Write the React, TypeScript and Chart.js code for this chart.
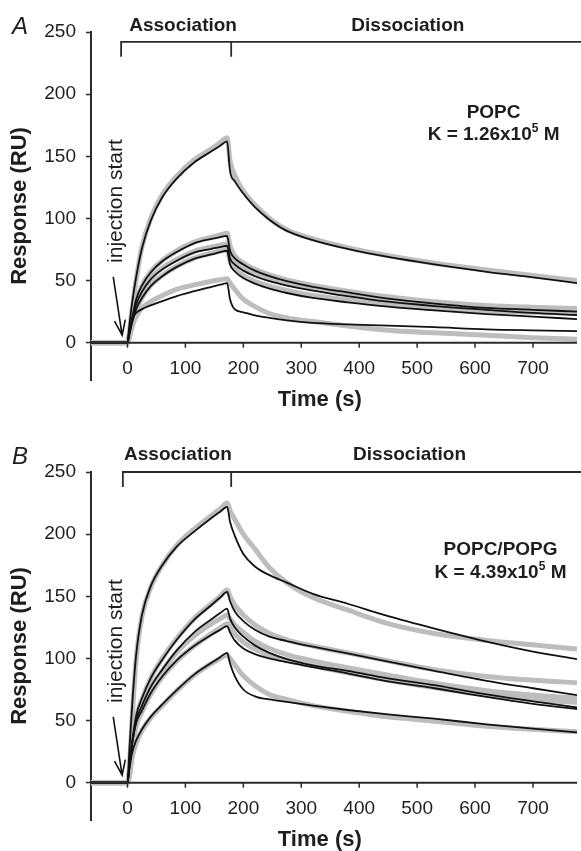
import React, { useEffect, useRef } from "react";
import { Chart, registerables } from "chart.js";

Chart.register(...registerables);

const FONT = "'Liberation Sans', Arial, Helvetica, sans-serif";

// Sampling times (s) shared by all sensorgrams
const times = [-63, 0, 3, 8, 15, 25, 40, 60, 85, 115, 145, 160, 172, 177, 185, 200, 220, 245, 275, 320, 380, 450, 530, 620, 700, 776];

// Axis tick values
const xTicks = [0, 100, 200, 300, 400, 500, 600, 700];
const yTicks = [0, 50, 100, 150, 200, 250];

// Panel A: POPC — fitted curves (black) and measured responses (grey)
const popcFit1 = [0, 0, 13, 32, 53, 76, 98, 117, 132, 145, 154, 158.5, 162, 138, 130, 120, 109, 99, 90, 82.6, 75.5, 69, 63, 57, 52.5, 48];
const popcFit2 = [0, 0, 8, 20, 35, 46, 56.5, 65.5, 73, 80, 83.5, 85, 86, 74, 68, 63, 58, 53.5, 49.5, 45, 40.5, 35.5, 31.5, 28, 26.5, 25];
const popcFit3 = [0, 0, 7, 18, 31, 41, 51, 59, 66, 72.5, 75.5, 77, 78, 68, 63, 58, 53.5, 49.5, 46, 42, 37.5, 33, 29.5, 26.5, 24, 22.3];
const popcFit4 = [0, 0, 6, 16, 27, 36, 45.5, 53.5, 61, 67.5, 71, 72.8, 74, 63, 57.5, 52, 47.5, 43.5, 40, 36, 32.5, 29, 26, 23, 21, 19];
const popcFit5 = [0, 0, 10, 19, 24, 27, 30, 33.5, 37.5, 41.5, 45, 46.7, 48, 35, 27, 24.5, 22, 20, 18, 16, 14.8, 13.8, 12.5, 10.8, 10, 9.4];
const popcData1 = [0, 0, 8, 27, 51, 77, 100, 119, 134, 147, 156, 161, 165, 146, 135, 122, 111, 100, 91, 83.5, 76.5, 70, 64, 58.5, 54, 50];
const popcData2 = [0, 0, 5, 18, 34, 46, 57, 66, 74, 81, 85, 86.8, 88, 78, 70, 64, 59, 54.5, 50.5, 46, 41.5, 37, 33, 30, 28.5, 27.5];
const popcData3 = [0, 0, 4, 16, 30, 41, 51.5, 60, 67, 73.5, 77, 78.5, 79.5, 71, 65, 59.5, 55, 51, 47.5, 43.5, 39, 34.5, 31, 28, 26.5, 25.5];
const popcData4 = [0, 0, 4, 14, 26, 36, 46, 54, 61.5, 68, 72, 73.8, 75, 66, 59.5, 54, 49.5, 45.5, 42, 38, 34.5, 31, 28, 25.5, 24.5, 23.5];
const popcData5 = [0, 0, 5, 13, 21, 28, 33, 38, 43, 46.5, 49.5, 50.7, 51.5, 48, 43, 35, 29, 23.5, 20, 17, 13.5, 10, 8, 6, 4, 2.7];

// Panel B: POPC/POPG — fitted curves (black) and measured responses (grey)
const pgFit1 = [0, 0, 24, 62, 103, 135, 158, 175, 190, 202, 213, 218, 222, 210, 199, 184, 174, 167, 161, 152, 144, 134, 124, 113.5, 105.5, 99.5];
const pgFit2 = [0, 0, 13, 33, 54, 68, 84, 99, 115, 131, 143, 149, 153.5, 146, 138, 130, 123, 117.5, 114, 109.5, 104, 97.5, 90, 82, 76, 70.5];
const pgFit3 = [0, 0, 12, 31, 50, 62, 77, 91, 106.5, 121, 131.5, 136.5, 140, 132, 125, 117.5, 110.5, 104.5, 99.5, 94.5, 90, 84, 78.5, 71, 65.5, 60.5];
const pgFit4 = [0, 0, 12, 31, 48, 58, 72, 85.5, 98.5, 110, 119, 123, 126, 121, 114.5, 108, 103.5, 100, 97, 93, 88, 81.5, 76, 69, 63.5, 59.3];
const pgFit5 = [0, 0, 10, 24, 34, 43, 53, 63, 74.5, 87, 96.5, 101, 104.5, 96, 86, 75, 69.5, 67, 65, 62, 58.5, 55, 51.5, 47, 43.5, 40.5];
const pgData1 = [0, 0, 12, 52, 100, 134, 157, 175, 191, 204, 215, 220.5, 225, 219, 212, 200, 188, 173, 161, 149, 139, 128, 120, 114.5, 111, 107.5];
const pgData2 = [0, 0, 6, 28, 52, 67, 84, 100, 116, 132, 144, 150, 155, 150, 143, 135, 127, 120, 115, 110, 104.5, 98, 91, 85.5, 82.5, 80.5];
const pgData3 = [0, 0, 5, 26, 47, 61, 76, 90, 105, 118, 128, 132, 135, 132, 127, 121, 114, 108, 103, 98, 92.5, 86.5, 80, 74, 70.5, 68];
const pgData4 = [0, 0, 5, 25, 45, 57, 71, 85, 98, 110, 120, 124.5, 128, 125, 120, 113, 107.5, 102.5, 98.5, 94, 88.5, 82.5, 76.5, 70.5, 67, 64.5];
const pgData5 = [0, 0, 4, 20, 32, 42, 52, 62, 74, 86.5, 96, 100, 103, 100, 95, 86, 78, 71, 67, 62, 57.5, 53, 49.5, 45.5, 43, 41];

type PanelSpec = {
  letter: string;
  lipid: string;
  kValue: string;
  fits: number[][];
  measured: number[][];
  canvasHeight: number;
  padBottom: number;
  letterY: number;
  headY: number;
  bracketY: number;
  bracketTickY: number;
  bracketLeft: number;
  assocX: number;
  dissocX: number;
  noteX: number;
  noteY1: number;
  noteY2: number;
};

const panelA: PanelSpec = {
  letter: "A",
  lipid: "POPC",
  kValue: "1.26",
  fits: [popcFit1, popcFit2, popcFit3, popcFit4, popcFit5],
  measured: [popcData1, popcData2, popcData3, popcData4, popcData5],
  canvasHeight: 440,
  padBottom: 60,
  letterY: 254,
  headY: 251,
  bracketY: 242,
  bracketTickY: 230,
  bracketLeft: -11,
  assocX: 96,
  dissocX: 484,
  noteX: 632,
  noteY1: 180.8,
  noteY2: 163.1,
};

const panelB: PanelSpec = {
  letter: "B",
  lipid: "POPC/POPG",
  kValue: "4.39",
  fits: [pgFit1, pgFit2, pgFit3, pgFit4, pgFit5],
  measured: [pgData1, pgData2, pgData3, pgData4, pgData5],
  canvasHeight: 411,
  padBottom: 31,
  letterY: 262,
  headY: 259.6,
  bracketY: 250,
  bracketTickY: 238,
  bracketLeft: -8,
  assocX: 87,
  dissocX: 487,
  noteX: 644,
  noteY1: 183.2,
  noteY2: 164.7,
};

const toPoints = (vals: number[]) => times.map((t, i) => ({ x: t, y: vals[i] }));

function overlayPlugin(p: PanelSpec) {
  return {
    id: "sprOverlay",
    afterDraw(chart: any) {
      const { ctx, chartArea, scales } = chart;
      const xs = scales.x;
      const ys = scales.y;
      const X = (v: number) => xs.getPixelForValue(v);
      const Y = (v: number) => ys.getPixelForValue(v);
      const ink = "#1e1e1e";
      ctx.save();

      // horizontal axis crossing at zero response
      const y0 = Y(0);
      ctx.strokeStyle = "#2b2b2b";
      ctx.lineWidth = 2;
      ctx.beginPath();
      ctx.moveTo(chartArea.left, y0);
      ctx.lineTo(chartArea.right, y0);
      ctx.stroke();
      ctx.lineWidth = 1.5;
      ctx.beginPath();
      for (const t of xTicks) {
        ctx.moveTo(X(t), y0);
        ctx.lineTo(X(t), y0 + 5);
      }
      ctx.stroke();
      ctx.fillStyle = ink;
      ctx.font = `19px ${FONT}`;
      ctx.textAlign = "center";
      ctx.textBaseline = "middle";
      for (const t of xTicks) ctx.fillText(String(t), X(t), y0 + 26);
      ctx.font = `bold 22px ${FONT}`;
      ctx.fillText("Time (s)", X(332), y0 + 57);

      // panel letter
      ctx.font = `italic 24px ${FONT}`;
      ctx.fillText(p.letter, 20, Y(p.letterY));

      // association / dissociation bracket
      ctx.font = `bold 19px ${FONT}`;
      ctx.textBaseline = "alphabetic";
      ctx.fillText("Association", X(p.assocX), Y(p.headY));
      ctx.fillText("Dissociation", X(p.dissocX), Y(p.headY));
      ctx.strokeStyle = "#2b2b2b";
      ctx.lineWidth = 1.8;
      ctx.beginPath();
      ctx.moveTo(X(p.bracketLeft), Y(p.bracketTickY));
      ctx.lineTo(X(p.bracketLeft), Y(p.bracketY));
      ctx.lineTo(chart.width, Y(p.bracketY));
      ctx.moveTo(X(179), Y(p.bracketY));
      ctx.lineTo(X(179), Y(p.bracketTickY));
      ctx.stroke();

      // lipid label and affinity constant
      ctx.fillText(p.lipid, X(p.noteX), Y(p.noteY1));
      const main = `K = ${p.kValue}x10`;
      const sup = "5";
      const tail = " M";
      ctx.font = `bold 19px ${FONT}`;
      const wMain = ctx.measureText(main).width;
      const wTail = ctx.measureText(tail).width;
      ctx.font = `bold 12px ${FONT}`;
      const wSup = ctx.measureText(sup).width;
      let cx = X(p.noteX) - (wMain + wSup + wTail) / 2;
      const by = Y(p.noteY2);
      ctx.textAlign = "left";
      ctx.font = `bold 19px ${FONT}`;
      ctx.fillText(main, cx, by);
      cx += wMain;
      ctx.font = `bold 12px ${FONT}`;
      ctx.fillText(sup, cx, by - 8);
      cx += wSup;
      ctx.font = `bold 19px ${FONT}`;
      ctx.fillText(tail, cx, by);

      // injection marker
      ctx.save();
      ctx.translate(X(-19.5), Y(114));
      ctx.rotate(-Math.PI / 2);
      ctx.textAlign = "center";
      ctx.textBaseline = "middle";
      ctx.font = `21px ${FONT}`;
      ctx.fillText("injection start", 0, 0);
      ctx.restore();

      const sx = X(-24.6), sy = Y(53);
      const tx = X(-9.2), ty = Y(6);
      const ang = Math.atan2(ty - sy, tx - sx);
      const head = 16;
      const spread = (20 * Math.PI) / 180;
      ctx.strokeStyle = "#111";
      ctx.lineWidth = 1.6;
      ctx.beginPath();
      ctx.moveTo(sx, sy);
      ctx.lineTo(tx, ty);
      ctx.moveTo(tx - head * Math.cos(ang - spread), ty - head * Math.sin(ang - spread));
      ctx.lineTo(tx, ty);
      ctx.lineTo(tx - head * Math.cos(ang + spread), ty - head * Math.sin(ang + spread));
      ctx.stroke();

      ctx.restore();
    },
  };
}

function makeChart(canvas: HTMLCanvasElement, p: PanelSpec) {
  const fitSets = p.fits.map((vals, i) => ({
    label: `fit ${i + 1}`,
    data: toPoints(vals),
    borderColor: "#111111",
    borderWidth: 1.8,
    pointRadius: 0,
    fill: false,
    cubicInterpolationMode: "monotone" as const,
    order: 0,
  }));
  const dataSets = p.measured.map((vals, i) => ({
    label: `measured ${i + 1}`,
    data: toPoints(vals),
    borderColor: "#bdbdbd",
    borderWidth: 5,
    pointRadius: 0,
    fill: false,
    cubicInterpolationMode: "monotone" as const,
    order: 1,
  }));
  return new Chart(canvas, {
    type: "line",
    data: { datasets: [...fitSets, ...dataSets] },
    options: {
      responsive: false,
      animation: false,
      devicePixelRatio: 1,
      layout: { padding: { top: 32, bottom: p.padBottom, left: 0, right: 4 } },
      plugins: { legend: { display: false }, tooltip: { enabled: false } },
      scales: {
        x: { type: "linear", min: -63, max: 776, display: false },
        y: {
          type: "linear",
          min: -30,
          max: 250,
          afterBuildTicks: (scale: any) => {
            scale.ticks = yTicks.map((v) => ({ value: v }));
          },
          afterFit: (scale: any) => {
            scale.width = 91;
          },
          ticks: { font: { family: FONT, size: 19 }, color: "#1e1e1e", padding: 10 },
          grid: { drawOnChartArea: false, tickLength: 5, tickColor: "#2b2b2b", tickWidth: 1.5 },
          border: { color: "#2b2b2b", width: 2 },
          title: {
            display: true,
            text: "Response (RU)",
            font: { family: FONT, size: 22, weight: "bold" },
            color: "#1e1e1e",
            padding: { top: 7, bottom: 0 },
          },
        },
      },
    },
    plugins: [overlayPlugin(p)],
  } as any);
}

export default function App() {
  const refA = useRef<HTMLCanvasElement>(null);
  const refB = useRef<HTMLCanvasElement>(null);
  useEffect(() => {
    const a = makeChart(refA.current!, panelA);
    const b = makeChart(refB.current!, panelB);
    return () => {
      a.destroy();
      b.destroy();
    };
  }, []);
  return (
    <div style={{ position: "absolute", left: 0, top: 0, width: 581, height: 851, background: "#fff", overflow: "hidden" }}>
      <canvas ref={refA} width={581} height={panelA.canvasHeight} style={{ position: "absolute", left: 0, top: 0 }} />
      <canvas ref={refB} width={581} height={panelB.canvasHeight} style={{ position: "absolute", left: 0, top: panelA.canvasHeight }} />
    </div>
  );
}
